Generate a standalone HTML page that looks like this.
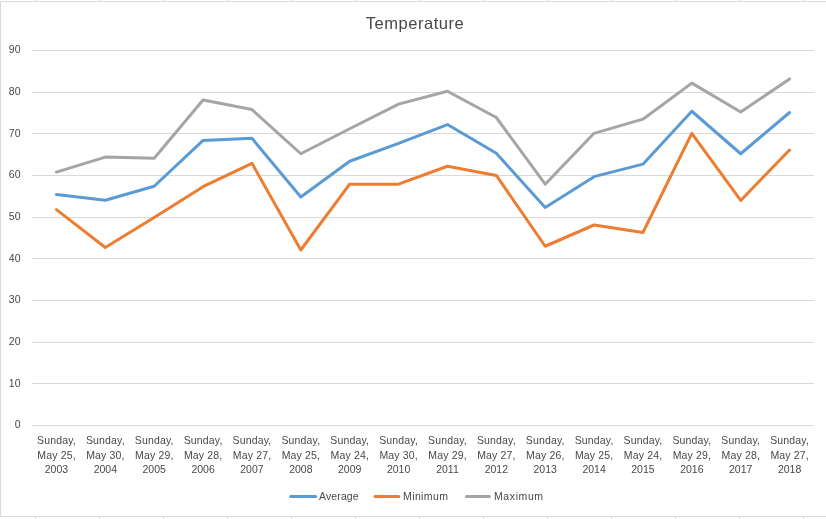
<!DOCTYPE html>
<html><head><meta charset="utf-8"><style>
html,body{margin:0;padding:0;background:#fff;overflow:hidden;}
svg{display:block;will-change:transform;}
text{font-family:"Liberation Sans",sans-serif;fill:#484848;}
.ax{font-size:10.5px;}
.title{font-size:16.5px;letter-spacing:0.55px;}
.ls{letter-spacing:0.15px;}
.lm{letter-spacing:0.4px;}
.lx{letter-spacing:0.6px;}
</style></head><body>
<svg width="826" height="519" viewBox="0 0 826 519">
<rect x="0.5" y="1.5" width="840" height="515" fill="#fff" stroke="#d9d9d9" stroke-width="1"/>
<line x1="35.5" y1="0" x2="35.5" y2="1" stroke="#d9d9d9" stroke-width="1"/>
<line x1="35.5" y1="517" x2="35.5" y2="519" stroke="#d9d9d9" stroke-width="1"/>
<line x1="99.5" y1="0" x2="99.5" y2="1" stroke="#d9d9d9" stroke-width="1"/>
<line x1="99.5" y1="517" x2="99.5" y2="519" stroke="#d9d9d9" stroke-width="1"/>
<line x1="163.5" y1="0" x2="163.5" y2="1" stroke="#d9d9d9" stroke-width="1"/>
<line x1="163.5" y1="517" x2="163.5" y2="519" stroke="#d9d9d9" stroke-width="1"/>
<line x1="227.5" y1="0" x2="227.5" y2="1" stroke="#d9d9d9" stroke-width="1"/>
<line x1="227.5" y1="517" x2="227.5" y2="519" stroke="#d9d9d9" stroke-width="1"/>
<line x1="291.5" y1="0" x2="291.5" y2="1" stroke="#d9d9d9" stroke-width="1"/>
<line x1="291.5" y1="517" x2="291.5" y2="519" stroke="#d9d9d9" stroke-width="1"/>
<line x1="355.5" y1="0" x2="355.5" y2="1" stroke="#d9d9d9" stroke-width="1"/>
<line x1="355.5" y1="517" x2="355.5" y2="519" stroke="#d9d9d9" stroke-width="1"/>
<line x1="419.5" y1="0" x2="419.5" y2="1" stroke="#d9d9d9" stroke-width="1"/>
<line x1="419.5" y1="517" x2="419.5" y2="519" stroke="#d9d9d9" stroke-width="1"/>
<line x1="483.5" y1="0" x2="483.5" y2="1" stroke="#d9d9d9" stroke-width="1"/>
<line x1="483.5" y1="517" x2="483.5" y2="519" stroke="#d9d9d9" stroke-width="1"/>
<line x1="547.5" y1="0" x2="547.5" y2="1" stroke="#d9d9d9" stroke-width="1"/>
<line x1="547.5" y1="517" x2="547.5" y2="519" stroke="#d9d9d9" stroke-width="1"/>
<line x1="611.5" y1="0" x2="611.5" y2="1" stroke="#d9d9d9" stroke-width="1"/>
<line x1="611.5" y1="517" x2="611.5" y2="519" stroke="#d9d9d9" stroke-width="1"/>
<line x1="675.5" y1="0" x2="675.5" y2="1" stroke="#d9d9d9" stroke-width="1"/>
<line x1="675.5" y1="517" x2="675.5" y2="519" stroke="#d9d9d9" stroke-width="1"/>
<line x1="739.5" y1="0" x2="739.5" y2="1" stroke="#d9d9d9" stroke-width="1"/>
<line x1="739.5" y1="517" x2="739.5" y2="519" stroke="#d9d9d9" stroke-width="1"/>
<line x1="803.5" y1="0" x2="803.5" y2="1" stroke="#d9d9d9" stroke-width="1"/>
<line x1="803.5" y1="517" x2="803.5" y2="519" stroke="#d9d9d9" stroke-width="1"/>
<line x1="32.0" y1="425.5" x2="814.0" y2="425.5" stroke="#d9d9d9" stroke-width="1"/>
<text x="20.5" y="428.2" text-anchor="end" class="ax">0</text>
<line x1="32.0" y1="383.5" x2="814.0" y2="383.5" stroke="#d9d9d9" stroke-width="1"/>
<text x="20.5" y="386.5333333333333" text-anchor="end" class="ax">10</text>
<line x1="32.0" y1="342.5" x2="814.0" y2="342.5" stroke="#d9d9d9" stroke-width="1"/>
<text x="20.5" y="344.8666666666667" text-anchor="end" class="ax">20</text>
<line x1="32.0" y1="300.5" x2="814.0" y2="300.5" stroke="#d9d9d9" stroke-width="1"/>
<text x="20.5" y="303.2" text-anchor="end" class="ax">30</text>
<line x1="32.0" y1="258.5" x2="814.0" y2="258.5" stroke="#d9d9d9" stroke-width="1"/>
<text x="20.5" y="261.53333333333336" text-anchor="end" class="ax">40</text>
<line x1="32.0" y1="217.5" x2="814.0" y2="217.5" stroke="#d9d9d9" stroke-width="1"/>
<text x="20.5" y="219.86666666666665" text-anchor="end" class="ax">50</text>
<line x1="32.0" y1="175.5" x2="814.0" y2="175.5" stroke="#d9d9d9" stroke-width="1"/>
<text x="20.5" y="178.2" text-anchor="end" class="ax">60</text>
<line x1="32.0" y1="133.5" x2="814.0" y2="133.5" stroke="#d9d9d9" stroke-width="1"/>
<text x="20.5" y="136.5333333333333" text-anchor="end" class="ax">70</text>
<line x1="32.0" y1="92.5" x2="814.0" y2="92.5" stroke="#d9d9d9" stroke-width="1"/>
<text x="20.5" y="94.86666666666669" text-anchor="end" class="ax">80</text>
<line x1="32.0" y1="50.5" x2="814.0" y2="50.5" stroke="#d9d9d9" stroke-width="1"/>
<text x="20.5" y="53.2" text-anchor="end" class="ax">90</text>
<polyline points="56.44,172.08 105.31,157.08 154.19,158.33 203.06,100.00 251.94,109.58 300.81,153.75 349.69,128.75 398.56,104.17 447.44,91.25 496.31,117.50 545.19,184.17 594.06,133.33 642.94,119.17 691.81,83.12 740.69,112.08 789.56,78.92" fill="none" stroke="#a5a5a5" stroke-width="3" stroke-linejoin="round" stroke-linecap="round"/>
<polyline points="56.44,209.58 105.31,247.50 154.19,217.50 203.06,186.67 251.94,163.33 300.81,250.00 349.69,184.17 398.56,184.17 447.44,166.25 496.31,175.42 545.19,246.25 594.06,225.00 642.94,232.50 691.81,133.33 740.69,200.42 789.56,150.00" fill="none" stroke="#ed7d31" stroke-width="3" stroke-linejoin="round" stroke-linecap="round"/>
<polyline points="56.44,194.58 105.31,200.21 154.19,186.25 203.06,140.42 251.94,138.33 300.81,197.08 349.69,161.25 398.56,143.33 447.44,124.58 496.31,153.33 545.19,207.50 594.06,176.67 642.94,164.17 691.81,111.25 740.69,153.75 789.56,112.50" fill="none" stroke="#5b9bd5" stroke-width="3" stroke-linejoin="round" stroke-linecap="round"/>
<text x="56.51" y="443.7" text-anchor="middle" class="ax ls">Sunday,</text>
<text x="56.51" y="459.2" text-anchor="middle" class="ax ls">May 25,</text>
<text x="56.44" y="472.6" text-anchor="middle" class="ax">2003</text>
<text x="105.38" y="443.7" text-anchor="middle" class="ax ls">Sunday,</text>
<text x="105.38" y="459.2" text-anchor="middle" class="ax ls">May 30,</text>
<text x="105.31" y="472.6" text-anchor="middle" class="ax">2004</text>
<text x="154.26" y="443.7" text-anchor="middle" class="ax ls">Sunday,</text>
<text x="154.26" y="459.2" text-anchor="middle" class="ax ls">May 29,</text>
<text x="154.19" y="472.6" text-anchor="middle" class="ax">2005</text>
<text x="203.13" y="443.7" text-anchor="middle" class="ax ls">Sunday,</text>
<text x="203.13" y="459.2" text-anchor="middle" class="ax ls">May 28,</text>
<text x="203.06" y="472.6" text-anchor="middle" class="ax">2006</text>
<text x="252.01" y="443.7" text-anchor="middle" class="ax ls">Sunday,</text>
<text x="252.01" y="459.2" text-anchor="middle" class="ax ls">May 27,</text>
<text x="251.94" y="472.6" text-anchor="middle" class="ax">2007</text>
<text x="300.88" y="443.7" text-anchor="middle" class="ax ls">Sunday,</text>
<text x="300.88" y="459.2" text-anchor="middle" class="ax ls">May 25,</text>
<text x="300.81" y="472.6" text-anchor="middle" class="ax">2008</text>
<text x="349.76" y="443.7" text-anchor="middle" class="ax ls">Sunday,</text>
<text x="349.76" y="459.2" text-anchor="middle" class="ax ls">May 24,</text>
<text x="349.69" y="472.6" text-anchor="middle" class="ax">2009</text>
<text x="398.63" y="443.7" text-anchor="middle" class="ax ls">Sunday,</text>
<text x="398.63" y="459.2" text-anchor="middle" class="ax ls">May 30,</text>
<text x="398.56" y="472.6" text-anchor="middle" class="ax">2010</text>
<text x="447.51" y="443.7" text-anchor="middle" class="ax ls">Sunday,</text>
<text x="447.51" y="459.2" text-anchor="middle" class="ax ls">May 29,</text>
<text x="447.44" y="472.6" text-anchor="middle" class="ax">2011</text>
<text x="496.38" y="443.7" text-anchor="middle" class="ax ls">Sunday,</text>
<text x="496.38" y="459.2" text-anchor="middle" class="ax ls">May 27,</text>
<text x="496.31" y="472.6" text-anchor="middle" class="ax">2012</text>
<text x="545.26" y="443.7" text-anchor="middle" class="ax ls">Sunday,</text>
<text x="545.26" y="459.2" text-anchor="middle" class="ax ls">May 26,</text>
<text x="545.19" y="472.6" text-anchor="middle" class="ax">2013</text>
<text x="594.13" y="443.7" text-anchor="middle" class="ax ls">Sunday,</text>
<text x="594.13" y="459.2" text-anchor="middle" class="ax ls">May 25,</text>
<text x="594.06" y="472.6" text-anchor="middle" class="ax">2014</text>
<text x="643.01" y="443.7" text-anchor="middle" class="ax ls">Sunday,</text>
<text x="643.01" y="459.2" text-anchor="middle" class="ax ls">May 24,</text>
<text x="642.94" y="472.6" text-anchor="middle" class="ax">2015</text>
<text x="691.88" y="443.7" text-anchor="middle" class="ax ls">Sunday,</text>
<text x="691.88" y="459.2" text-anchor="middle" class="ax ls">May 29,</text>
<text x="691.81" y="472.6" text-anchor="middle" class="ax">2016</text>
<text x="740.76" y="443.7" text-anchor="middle" class="ax ls">Sunday,</text>
<text x="740.76" y="459.2" text-anchor="middle" class="ax ls">May 28,</text>
<text x="740.69" y="472.6" text-anchor="middle" class="ax">2017</text>
<text x="789.63" y="443.7" text-anchor="middle" class="ax ls">Sunday,</text>
<text x="789.63" y="459.2" text-anchor="middle" class="ax ls">May 27,</text>
<text x="789.56" y="472.6" text-anchor="middle" class="ax">2018</text>
<text x="415" y="28.6" text-anchor="middle" class="title">Temperature</text>
<line x1="290.7" y1="496.5" x2="315.7" y2="496.5" stroke="#5b9bd5" stroke-width="3" stroke-linecap="round"/>
<text x="319" y="500" class="ax" style="letter-spacing:0.12px">Average</text>
<line x1="375" y1="496.5" x2="398.8" y2="496.5" stroke="#ed7d31" stroke-width="3" stroke-linecap="round"/>
<text x="403" y="500" class="ax lm">Minimum</text>
<line x1="466.4" y1="496.5" x2="489.5" y2="496.5" stroke="#a5a5a5" stroke-width="3" stroke-linecap="round"/>
<text x="494" y="500" class="ax lx">Maximum</text>
</svg>
</body></html>
